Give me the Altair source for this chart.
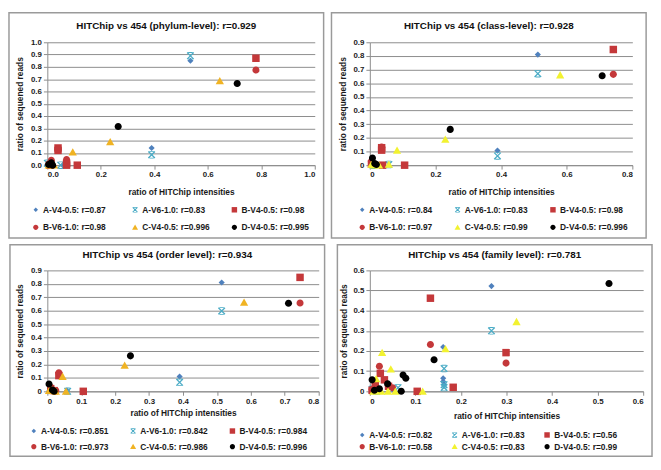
import altair as alt
import pandas as pd

SERIES = ["A-V4-0.5", "A-V6-1.0", "B-V4-0.5", "B-V6-1.0", "C-V4-0.5", "D-V4-0.5"]

TITLES = [
    "HITChip vs 454 (phylum-level): r=0.929",
    "HITChip vs 454 (class-level): r=0.928",
    "HITChip vs 454 (order level): r=0.934",
    "HITChip vs 454 (family level): r=0.781",
]

PHYLUM_R = ["0.87", "0.83", "0.98", "0.98", "0.996", "0.995"]
PHYLUM_X = [
    [0.535, 0.39, 0.058, 0.005, 0.0],
    [0.535, 0.39, 0.05, 0.0, 0.01],
    [0.78, 0.04, 0.04, 0.072, 0.072, 0.112, 0.01],
    [0.78, 0.04, 0.072, 0.015, 0.005],
    [0.645, 0.235, 0.095, 0.01, 0.025, 0.005],
    [0.71, 0.265, 0.015, 0.005, 0.02],
]
PHYLUM_Y = [
    [0.85, 0.14, 0.0, 0.01, 0.005],
    [0.89, 0.085, 0.0, 0.015, 0.0],
    [0.87, 0.14, 0.12, 0.015, 0.0, 0.0, 0.0],
    [0.775, 0.13, 0.045, 0.04, 0.01],
    [0.685, 0.19, 0.105, 0.005, 0.0, 0.0],
    [0.665, 0.315, 0.02, 0.005, 0.0],
]

CLASS_R = ["0.84", "0.83", "0.98", "0.97", "0.99", "0.996"]
CLASS_X = [
    [0.512, 0.389, 0.005, 0.02],
    [0.512, 0.389, 0.01, 0.058],
    [0.742, 0.036, 0.036, 0.106, 0.039, 0.005],
    [0.742, 0.036, 0.005, 0.012],
    [0.58, 0.23, 0.083, 0.058, 0.028, 0.005, 0.012],
    [0.708, 0.245, 0.008, 0.015, 0.02],
]
CLASS_Y = [
    [0.81, 0.107, 0.01, 0.0],
    [0.67, 0.068, 0.0, 0.005],
    [0.847, 0.128, 0.11, 0.0, 0.0, 0.01],
    [0.665, 0.132, 0.028, 0.005],
    [0.66, 0.188, 0.108, 0.005, 0.0, 0.005, 0.0],
    [0.655, 0.262, 0.053, 0.012, 0.005],
]

ORDER_R = ["0.851", "0.842", "0.984", "0.973", "0.986", "0.996"]
ORDER_X = [
    [0.514, 0.39, 0.058, 0.005],
    [0.514, 0.39, 0.06, 0.01],
    [0.745, 0.034, 0.106, 0.02, 0.01],
    [0.745, 0.034, 0.01, 0.025],
    [0.58, 0.228, 0.045, 0.055, 0.025, 0.005, 0.015],
    [0.711, 0.245, 0.005, 0.015, 0.02],
]
ORDER_Y = [
    [0.81, 0.11, 0.005, 0.0],
    [0.598, 0.067, 0.0, 0.01],
    [0.848, 0.117, 0.0, 0.005, 0.02],
    [0.657, 0.138, 0.03, 0.005],
    [0.662, 0.193, 0.11, 0.0, 0.0, 0.005, 0.01],
    [0.655, 0.264, 0.055, 0.01, 0.0],
]

FAMILY_R = ["0.82", "0.83", "0.56", "0.58", "0.83", "0.99"]
FAMILY_X = [
    [0.267, 0.161, 0.161, 0.161, 0.163, 0.01, 0.005, 0.05],
    [0.267, 0.163, 0.163, 0.163, 0.062, 0.005, 0.015],
    [0.133, 0.299, 0.023, 0.032, 0.041, 0.104, 0.183, 0.012, 0.005],
    [0.133, 0.299, 0.021, 0.05, 0.012, 0.005],
    [0.322, 0.166, 0.027, 0.046, 0.014, 0.116, 0.025, 0.04, 0.056, 0.008, 0.018],
    [0.525, 0.141, 0.073, 0.079, 0.039, 0.005, 0.021, 0.069, 0.01],
]
FAMILY_Y = [
    [0.522, 0.22, 0.065, 0.049, 0.035, 0.02, 0.005, 0.01],
    [0.3, 0.113, 0.033, 0.019, 0.018, 0.01, 0.0],
    [0.462, 0.192, 0.089, 0.057, 0.025, 0.0, 0.02, 0.03, 0.005],
    [0.232, 0.14, 0.124, 0.018, 0.02, 0.01],
    [0.345, 0.21, 0.192, 0.11, 0.062, 0.0, 0.0, 0.0, 0.0, 0.0, 0.005],
    [0.535, 0.157, 0.081, 0.065, 0.037, 0.057, 0.013, 0.0, 0.005],
]

X_TICKS = [
    [0.0, 0.2, 0.4, 0.6, 0.8, 1.0],
    [0.0, 0.2, 0.4, 0.6, 0.8],
    [0.0, 0.1, 0.2, 0.3, 0.4, 0.5, 0.6, 0.7, 0.8],
    [0.0, 0.1, 0.2, 0.3, 0.4, 0.5, 0.6],
]
Y_TICKS = [
    [0.0, 0.1, 0.2, 0.3, 0.4, 0.5, 0.6, 0.7, 0.8, 0.9, 1.0],
    [0.0, 0.1, 0.2, 0.3, 0.4, 0.5, 0.6, 0.7, 0.8, 0.9],
    [0.0, 0.1, 0.2, 0.3, 0.4, 0.5, 0.6, 0.7, 0.8, 0.9],
    [0.0, 0.1, 0.2, 0.3, 0.4, 0.5, 0.6],
]

GOLD = "#F0B323"
YELLOW = "#F2F230"
BASE_COLORS = ["#4F81BD", "#4BACC6", "#C4383A", "#C4383A", None, "#000000"]
DIAMOND = "M0,-0.78L0.78,0L0,0.78L-0.78,0Z"
STAR = ("M-0.72,-0.95L0.95,0.72L0.72,0.95L-0.95,-0.72Z"
        "M0.72,-0.95L0.95,-0.72L-0.72,0.95L-0.95,0.72Z"
        "M-0.55,-0.95L0.55,-0.95L0.55,-0.74L-0.55,-0.74Z"
        "M-0.55,0.74L0.55,0.74L0.55,0.95L-0.55,0.95Z")
SQUARE = "M-0.95,-0.95L0.95,-0.95L0.95,0.95L-0.95,0.95Z"
CIRCLE = "M0.9,0A0.9,0.9 0 1,1 -0.9,0A0.9,0.9 0 1,1 0.9,0Z"
TRIANGLE = "M0,-1L1.05,0.85L-1.05,0.85Z"
SHAPES = [DIAMOND, STAR, SQUARE, CIRCLE, TRIANGLE, CIRCLE]

FONT = "Liberation Sans"
GRID = "#8c8c8c"


def make_panel(idx, rvals, xs, ys, c_color, zero_label, layout):
    labels = [f"{s}: r={r}" for s, r in zip(SERIES, rvals)]
    rows = []
    for i, lab in enumerate(labels):
        for xv, yv in zip(xs[i], ys[i]):
            rows.append({"label": lab, "x": xv, "y": yv, "k": i})
    df = pd.DataFrame(rows)
    colors = [c if c else c_color for c in BASE_COLORS]
    fw, fh = layout["fw"], layout["fh"]
    pl, pt, pw, ph = layout["pl"], layout["pt"], layout["pw"], layout["ph"]
    if zero_label:
        lexpr = "datum.value == 0 ? '0' : format(datum.value, '.1f')"
    else:
        lexpr = "format(datum.value, '.1f')"
    xt, yt = X_TICKS[idx], Y_TICKS[idx]
    legend = alt.Legend(
        orient="none", legendX=layout["lx"], legendY=layout["ly"],
        direction="horizontal", columns=3, title=None,
        labelFont=FONT, labelFontSize=layout["lfs"], labelFontWeight="bold",
        labelColor="#1a1a1a", symbolSize=34, symbolStrokeWidth=0,
        columnPadding=layout["cp"], rowPadding=layout["rp"], gridAlign="all",
        labelOffset=3, labelLimit=300, padding=0,
    )
    points = alt.Chart(df).mark_point(filled=True, opacity=1, strokeWidth=0, size=64).encode(
        x=alt.X("x:Q", scale=alt.Scale(domain=[xt[0], xt[-1]], nice=False, zero=False),
                axis=alt.Axis(values=xt, labelExpr=lexpr, grid=False, tickSize=4,
                              labelPadding=2, title="ratio of HITChip intensities",
                              titlePadding=layout["xtp"])),
        y=alt.Y("y:Q", scale=alt.Scale(domain=[yt[0], yt[-1]], nice=False, zero=False),
                axis=alt.Axis(values=yt, labelExpr=lexpr, grid=True, tickSize=4,
                              labelPadding=2, title="ratio of sequened reads",
                              titlePadding=layout["ytp"])),
        color=alt.Color("label:N", scale=alt.Scale(domain=labels, range=colors), legend=legend),
        shape=alt.Shape("label:N", scale=alt.Scale(domain=labels, range=SHAPES), legend=legend),
        order=alt.Order("k:Q"),
    )
    frame = alt.Chart(pd.DataFrame({"f": [0]})).mark_rect(
        filled=False, stroke="#9a9a9a", strokeWidth=1.5
    ).encode(
        x=alt.value(-pl), x2=alt.value(fw - pl),
        y=alt.value(-pt), y2=alt.value(fh - pt),
    )
    title = alt.Chart(pd.DataFrame({"t": [TITLES[idx]]})).mark_text(
        font=FONT, fontSize=10, fontWeight="bold", color="#111", align="center", baseline="middle"
    ).encode(
        x=alt.value(fw / 2 - pl), y=alt.value(layout["ty"] - pt), text="t:N"
    )
    return alt.layer(frame, title, points).properties(width=pw, height=ph)


L1 = dict(fw=320, fh=229, pl=39, pt=30, pw=272, ph=125, ty=13, lx=-16, ly=166,
          cp=20, rp=9, lfs=8.5, xtp=9, ytp=6)
L2 = dict(fw=320, fh=229, pl=39, pt=30, pw=267, ph=125, ty=13, lx=-12, ly=166,
          cp=16, rp=9, lfs=8.5, xtp=9, ytp=6)
L3 = dict(fw=320, fh=215, pl=38, pt=26, pw=276, ph=123, ty=10, lx=-18, ly=159,
          cp=20, rp=7, lfs=8.5, xtp=4, ytp=6)
L4 = dict(fw=320, fh=215, pl=33, pt=26, pw=278, ph=123, ty=10, lx=-12, ly=163,
          cp=18, rp=3, lfs=8.5, xtp=7, ytp=5)

p1 = make_panel(0, PHYLUM_R, PHYLUM_X, PHYLUM_Y, GOLD, False, L1)
p2 = make_panel(1, CLASS_R, CLASS_X, CLASS_Y, YELLOW, True, L2)
p3 = make_panel(2, ORDER_R, ORDER_X, ORDER_Y, GOLD, True, L3)
p4 = make_panel(3, FAMILY_R, FAMILY_X, FAMILY_Y, YELLOW, True, L4)

chart = alt.concat(p1, p2, p3, p4, columns=2, spacing=5).resolve_scale(
    color="independent", shape="independent",
    x="independent", y="independent",
).resolve_legend(color="independent", shape="independent").properties(
    padding=0
).configure_view(stroke=None).configure_axis(
    labelFont=FONT, labelFontSize=8, labelFontWeight="bold", labelColor="#1a1a1a",
    titleFont=FONT, titleFontSize=8.5, titleFontWeight="bold", titleColor="#1a1a1a",
    gridColor=GRID, gridWidth=1, domainColor=GRID, tickColor=GRID,
)

chart.save("out.html", embed_options={"renderer": "svg", "actions": False})
